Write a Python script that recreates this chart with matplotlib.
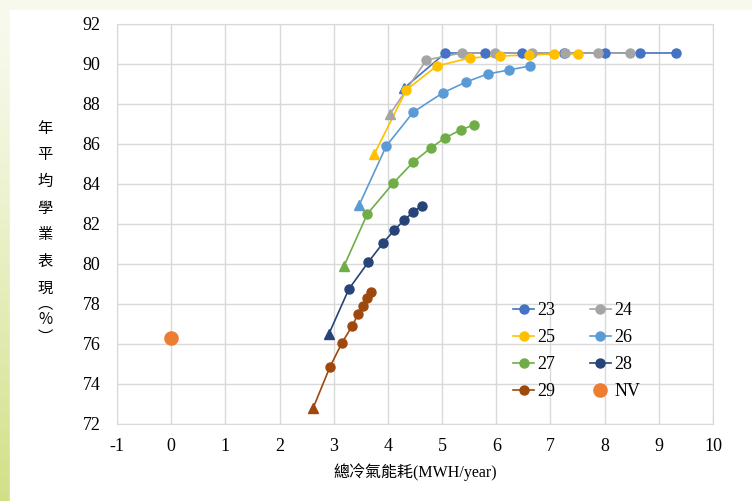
import numpy as np
import matplotlib.pyplot as plt
from matplotlib.patches import Rectangle
from matplotlib.lines import Line2D

# 各組資料 (x: 總冷氣能耗 MWH/year, y: 年平均學業表現 %)
x23 = [4.30, 5.06, 5.79, 6.47, 7.25, 8.00, 8.65, 9.31]
y23 = [88.8, 90.55, 90.55, 90.55, 90.55, 90.55, 90.55, 90.55]
x24 = [4.04, 4.71, 5.36, 5.97, 6.66, 7.27, 7.87, 8.46]
y24 = [87.5, 90.2, 90.55, 90.55, 90.55, 90.55, 90.55, 90.55]
x25 = [3.75, 4.34, 4.90, 5.51, 6.07, 6.60, 7.07, 7.51]
y25 = [85.5, 88.7, 89.9, 90.3, 90.4, 90.45, 90.5, 90.5]
x26 = [3.47, 3.97, 4.47, 5.01, 5.44, 5.84, 6.23, 6.62]
y26 = [82.95, 85.9, 87.6, 88.55, 89.1, 89.5, 89.7, 89.9]
x27 = [3.19, 3.62, 4.10, 4.47, 4.79, 5.05, 5.34, 5.58]
y27 = [79.9, 82.5, 84.05, 85.1, 85.8, 86.3, 86.7, 86.95]
x28 = [2.91, 3.28, 3.64, 3.91, 4.12, 4.30, 4.47, 4.62]
y28 = [76.5, 78.75, 80.1, 81.05, 81.7, 82.2, 82.6, 82.9]
x29 = [2.62, 2.93, 3.15, 3.34, 3.45, 3.54, 3.62, 3.69]
y29 = [72.8, 74.85, 76.05, 76.9, 77.5, 77.9, 78.3, 78.6]
x_nv = [0]
y_nv = [76.3]

labels = ["23", "24", "25", "26", "27", "28", "29"]
colors = ["#4472C4", "#A5A5A5", "#FFC000", "#5B9BD5", "#70AD47", "#264478", "#9E480E"]
xs = [x23, x24, x25, x26, x27, x28, x29]
ys = [y23, y24, y25, y26, y27, y28, y29]

plt.rcParams['font.family'] = ['Liberation Serif', 'Noto Sans CJK TC']
plt.rcParams['axes.unicode_minus'] = False

fig = plt.figure(figsize=(7.52, 5.01), dpi=100)

# 背景漸層 + 白色面板
bg = fig.add_axes([0, 0, 1, 1], zorder=-10)
grad = np.linspace(0, 1, 256).reshape(-1, 1)
top_c = np.array([0.973, 0.980, 0.933])
bot_c = np.array([0.82, 0.88, 0.53])
img = top_c + (bot_c - top_c) * grad[:, :, None] ** 1.3
bg.imshow(img, aspect='auto', extent=[0, 1, 0, 1], origin='upper')
bg.add_patch(Rectangle((10 / 752, 0), 1, 491 / 501, color='white'))
bg.set_xlim(0, 1)
bg.set_ylim(0, 1)
bg.axis('off')

ax = fig.add_axes([117 / 752, 77 / 501, 596 / 752, 400 / 501])
ax.set_facecolor('white')

for x, y, c in zip(xs, ys, colors):
    ax.plot(x, y, color=c, lw=1.2, zorder=3)
    ax.plot(x[:1], y[:1], '^', color=c, ms=6.5, zorder=4)
    ax.plot(x[1:], y[1:], 'o', color=c, ms=6.5, zorder=4)
ax.plot(x_nv, y_nv, 'o', color='#ED7D31', ms=9.5, zorder=4)

ax.set_xlim(-1, 10)
ax.set_ylim(72, 92)
ax.set_xticks(range(-1, 11))
ax.set_yticks(range(72, 93, 2))
ax.grid(True, color='#d9d9d9', lw=1)
ax.set_axisbelow(True)
for s in ax.spines.values():
    s.set_color('#d9d9d9')
ax.tick_params(length=0, labelsize=13, pad=12)
ax.tick_params(axis='x', pad=10)

ax.set_xlabel("總冷氣能耗(MWH/year)", fontsize=11.5, labelpad=6)

# 直書 y 軸標題
cjk = ['Noto Sans CJK TC', 'Liberation Serif']
for i, ch in enumerate("年平均學業表現"):
    fig.text(45 / 752, 1 - (128 + i * 26.7) / 501, ch, ha='center', va='center',
             fontsize=11, family=cjk)
for ch, py in zip(["︵", "%", "︶"], [304, 320, 337]):
    fig.text(45 / 752, 1 - py / 501, ch, ha='center', va='center',
             fontsize=11, family=cjk)

handles = []
for lab, c in zip(labels, colors):
    handles.append(Line2D([0], [0], color=c, lw=1.2, marker='o', ms=6.5, label=lab))
handles.append(Line2D([0], [0], color='#ED7D31', lw=0, marker='o', ms=9.5, label="NV"))
# 兩欄:  23 24 / 25 26 / 27 28 / 29 NV
left_col = [handles[i] for i in (0, 2, 4, 6)]
right_col = [handles[i] for i in (1, 3, 5, 7)]
ax.legend(handles=left_col + right_col, ncol=2, frameon=False, fontsize=13,
          loc='upper left', bbox_to_anchor=(0.6375, 0.345), handlelength=1.15,
          handletextpad=0.2, columnspacing=1.9, labelspacing=0.55)

fig.savefig("out.png", dpi=100)
